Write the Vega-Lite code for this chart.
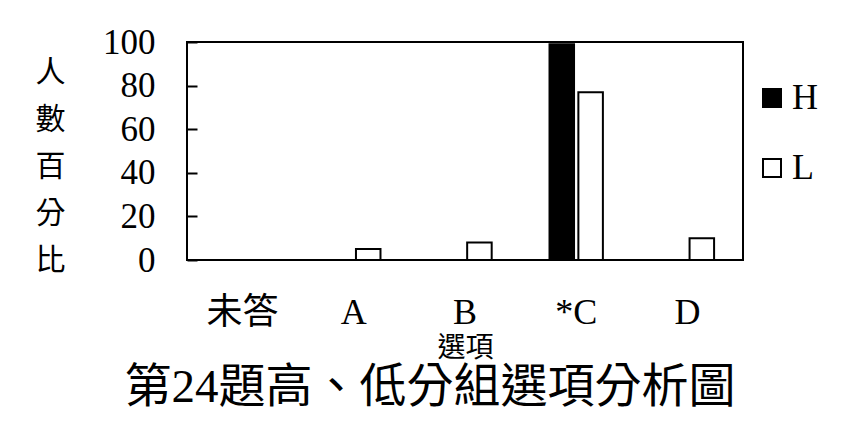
{
  "$schema": "https://vega.github.io/schema/vega-lite/v6.json",
  "width": 556,
  "height": 218,
  "autosize": {"type": "none"},
  "padding": {"left": 187, "top": 42, "right": 103, "bottom": 166},
  "background": "white",
  "data": {
    "values": [
      {"option": "未答", "group": "H", "value": 0},
      {"option": "未答", "group": "L", "value": 0},
      {"option": "A", "group": "H", "value": 0},
      {"option": "A", "group": "L", "value": 5},
      {"option": "B", "group": "H", "value": 0},
      {"option": "B", "group": "L", "value": 8},
      {"option": "*C", "group": "H", "value": 99},
      {"option": "*C", "group": "L", "value": 77},
      {"option": "D", "group": "H", "value": 0},
      {"option": "D", "group": "L", "value": 10}
    ]
  },
  "title": {
    "text": "第24題高、低分組選項分析圖",
    "orient": "bottom",
    "anchor": "middle",
    "fontSize": 47,
    "fontWeight": "normal",
    "color": "black",
    "offset": 3,
    "dx": -35
  },
  "mark": {"type": "bar", "stroke": "black", "strokeWidth": 2},
  "encoding": {
    "x": {
      "field": "option",
      "type": "nominal",
      "sort": ["未答", "A", "B", "*C", "D"],
      "scale": {"paddingInner": 0.52, "paddingOuter": 0.26},
      "axis": {
        "title": "選項",
        "labelAngle": 0,
        "ticks": false,
        "domain": false,
        "labelFontSize": 36,
        "labelColor": "black",
        "labelPadding": 35,
        "titleFontSize": 28,
        "titleFontWeight": "normal",
        "titleColor": "black",
        "titlePadding": 4
      }
    },
    "xOffset": {
      "field": "group",
      "type": "nominal",
      "sort": ["H", "L"],
      "scale": {"paddingInner": 0.15, "paddingOuter": 0}
    },
    "y": {
      "field": "value",
      "type": "quantitative",
      "scale": {"domain": [0, 100]},
      "axis": {
        "values": [0, 20, 40, 60, 80, 100],
        "grid": false,
        "domain": false,
        "tickSize": -10,
        "tickWidth": 2,
        "tickColor": "black",
        "labelFontSize": 35,
        "labelColor": "black",
        "labelPadding": 42,
        "title": ["人", "數", "百", "分", "比"],
        "titleAngle": 0,
        "titleX": -137,
        "titleY": 15,
        "titleAlign": "center",
        "titleBaseline": "top",
        "titleFontSize": 30,
        "titleLineHeight": 47,
        "titleFontWeight": "normal",
        "titleColor": "black"
      }
    },
    "fill": {
      "field": "group",
      "type": "nominal",
      "scale": {"domain": ["H", "L"], "range": ["black", "white"]},
      "legend": {
        "orient": "none",
        "legendX": 567,
        "legendY": 38,
        "title": null,
        "padding": 0,
        "symbolType": "square",
        "symbolSize": 324,
        "symbolStrokeColor": "black",
        "symbolStrokeWidth": 2,
        "labelFontSize": 36,
        "labelColor": "black",
        "labelOffset": 2,
        "rowPadding": 34
      }
    }
  },
  "config": {
    "font": "Liberation Serif, Noto Sans CJK TC",
    "view": {"stroke": "black", "strokeWidth": 2}
  }
}
